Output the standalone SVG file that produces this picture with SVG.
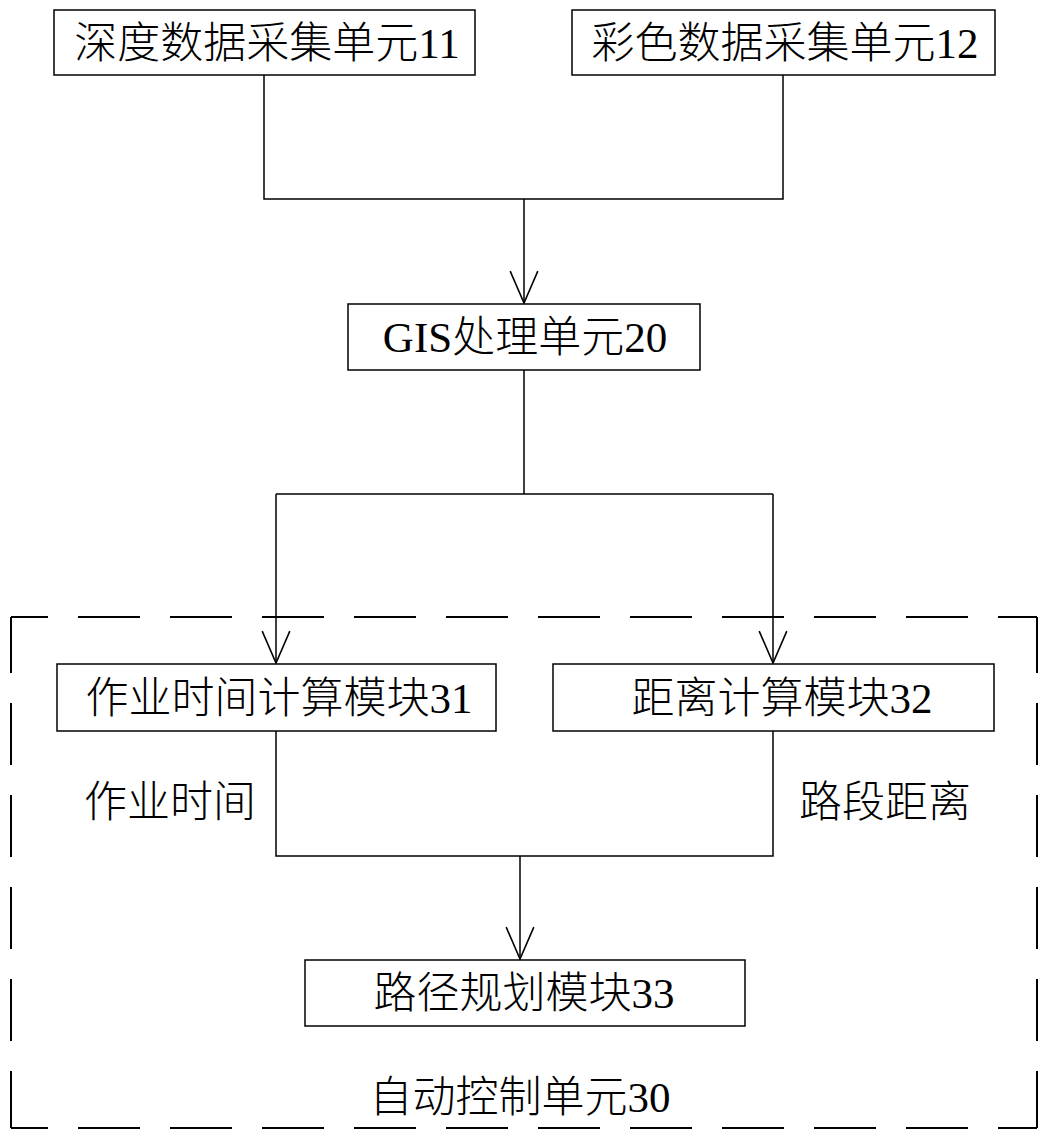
<svg xmlns="http://www.w3.org/2000/svg" width="1054" height="1142" viewBox="0 0 1054 1142">
<style>
.box{fill:#fff;stroke:#000;stroke-width:1.5}
.ln{fill:none;stroke:#000;stroke-width:1.5}
.dash{fill:none;stroke:#000;stroke-width:2;stroke-dasharray:62 30;stroke-dashoffset:25}
.dashv{fill:none;stroke:#000;stroke-width:2;stroke-dasharray:62 30;stroke-dashoffset:6}
text{font-family:"Liberation Serif","Noto Sans CJK SC",serif;font-size:43px;font-weight:300;fill:#000;text-anchor:middle}
</style>
<defs>
<marker id="arr" markerUnits="userSpaceOnUse" markerWidth="34" markerHeight="30" refX="31" refY="14" viewBox="0 0 32 28" orient="auto">
<path d="M1,1 L31,14 L1,27" fill="none" stroke="#000" stroke-width="1.5"/>
</marker>
</defs>
<g id="container-30">
<path class="dash" d="M11,617 H1037"/>
<path class="dashv" d="M1037,617 V1128"/>
<path class="dash" d="M11,1128 H1037"/>
<path class="dashv" d="M11,617 V1128"/>
<text x="520" y="1112">自动控制单元30</text>
</g>
<g id="connectors">
<path class="ln" d="M264,75 V199 H783 V75"/>
<path class="ln" d="M524,199 V303" marker-end="url(#arr)"/>
<path class="ln" d="M524,370 V494"/>
<path class="ln" d="M276,494 H773"/>
<path class="ln" d="M276,494 V663" marker-end="url(#arr)"/>
<path class="ln" d="M773,494 V663" marker-end="url(#arr)"/>
<path class="ln" d="M276,731 V856 H773 V731"/>
<path class="ln" d="M520,856 V959" marker-end="url(#arr)"/>
<text x="170" y="817">作业时间</text>
<text x="885" y="817">路段距离</text>
</g>
<g id="node-11">
<rect class="box" x="54" y="10" width="421" height="65"/>
<text x="267" y="58">深度数据采集单元11</text>
</g>
<g id="node-12">
<rect class="box" x="572" y="10" width="423" height="65"/>
<text x="785" y="58">彩色数据采集单元12</text>
</g>
<g id="node-20">
<rect class="box" x="348" y="304" width="352" height="66"/>
<text x="525" y="352">GIS处理单元20</text>
</g>
<g id="node-31">
<rect class="box" x="57" y="664" width="439" height="67"/>
<text x="279" y="713">作业时间计算模块31</text>
</g>
<g id="node-32">
<rect class="box" x="553" y="664" width="441" height="67"/>
<text x="782" y="713">距离计算模块32</text>
</g>
<g id="node-33">
<rect class="box" x="305" y="960" width="440" height="66"/>
<text x="524" y="1008">路径规划模块33</text>
</g>
</svg>
